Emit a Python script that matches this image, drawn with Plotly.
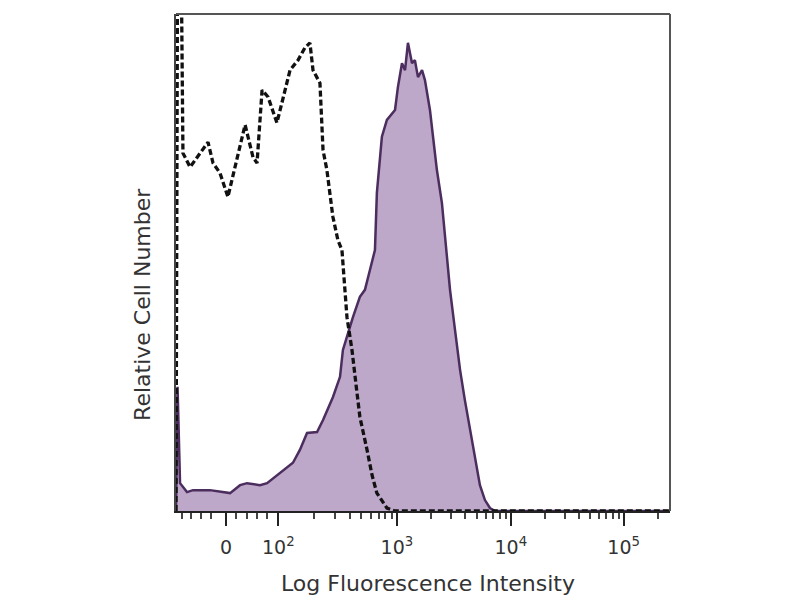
import plotly.graph_objects as go
import math

# Histogram channels (biexponential display scale, 0-256) and relative counts (% of mode)
control_channel = [0, 1.0, 2.0, 3.6, 7.3, 10.9, 16.6, 19.2, 22.8, 26.9, 30.6, 35.8, 39.9, 42.0, 44.6,
                   47.7, 52.3, 54.9, 59.1, 63.2, 66.8, 69.4, 71.0, 74.6, 76.2, 78.2, 81.3, 83.9,
                   86.0, 88.6, 91.2, 93.3, 95.3, 99.0, 101.6, 104.1, 107.3, 109.3, 113.5, 256]
control_count = [0, 140, 140, 72.0, 69.2, 71.2, 74.2, 70.0, 68.0, 63.2, 69.2, 77.7, 71.2, 70.0, 84.7,
                 83.3, 78.1, 82.2, 88.7, 90.7, 93.2, 94.2, 88.7, 86.1, 72.6, 68.6, 59.2, 54.5,
                 52.5, 39.0, 32.4, 25.4, 18.9, 12.3, 7.2, 3.6, 1.6, 0.6, 0, 0]

stained_channel = [0, 0.8, 2.1, 5.7, 8.8, 17.6, 28.0, 33.2, 36.8, 43.5, 47.2, 53.9, 60.6, 64.2, 67.9,
                   73.1, 76.2, 81.3, 85.0, 86.5, 89.1, 91.7, 95.3, 97.9, 100.5, 103.1, 104.1, 106.7,
                   109.3, 113.5, 115.0, 117.1, 118.7, 120.2, 122.3, 123.8, 125.4, 127.5, 129.0,
                   130.1, 131.6, 133.2, 135.2, 137.8, 140.4, 142.0, 144.6, 147.2, 149.7, 152.3,
                   154.9, 157.5, 160.1, 162.7, 165.3, 256]
stained_count = [0, 25, 5.6, 3.8, 4.2, 4.2, 3.6, 5.2, 5.6, 5.2, 5.6, 7.6, 9.7, 12.3, 15.7,
                 15.9, 18.3, 22.9, 27.0, 32.4, 35.8, 39.0, 43.1, 44.5, 48.5, 52.5, 64.0, 75.3,
                 78.7, 80.7, 85.3, 90.1, 88.7, 94.2, 90.1, 90.7, 87.3, 88.7, 86.7,
                 84.1, 80.7, 75.3, 68.6, 62.0, 51.9, 44.5, 36.4, 28.4, 22.3, 16.3,
                 10.3, 5.2, 2.2, 0.6, 0, 0]

tick_positions = [26, 53, 114.5, 173.5, 232]
tick_labels = ["0", "10<sup>2</sup>", "10<sup>3</sup>", "10<sup>4</sup>", "10<sup>5</sup>"]

x_title = "Log Fluorescence Intensity"
y_title = "Relative Cell Number"

# minor tick positions (biexponential decades)
minor_positions = [3, 8, 13, 18, 31, 37, 42, 47]
decades = [(53, 114.5), (114.5, 173.5), (173.5, 232)]
for a, b in decades:
    for k in range(2, 10):
        minor_positions.append(a + (b - a) * math.log10(k))
for k in range(2, 5):
    minor_positions.append(232 + 58.5 * math.log10(k))

fig = go.Figure()
fig.add_trace(go.Scatter(
    x=stained_channel, y=stained_count, mode="lines",
    line=dict(color="#4b2d5e", width=2.5),
    fill="tozeroy", fillcolor="#bea8c9", showlegend=False,
))
fig.add_trace(go.Scatter(
    x=control_channel, y=control_count, mode="lines",
    line=dict(color="#111111", width=3.3, dash="6px,3px"),
    showlegend=False,
))

fig.update_layout(
    width=800, height=600,
    margin=dict(l=168, r=138, t=6, b=97),
    paper_bgcolor="white", plot_bgcolor="white",
    font=dict(family="DejaVu Sans", color="#333333"),
    xaxis=dict(
        range=[0, 256], showgrid=False, zeroline=False,
        tickmode="array", tickvals=tick_positions, ticktext=tick_labels,
        ticks="outside", ticklen=13, tickwidth=2, tickcolor="#222222",
        tickfont=dict(size=19, color="#333333"), ticklabelstandoff=5,
        minor=dict(tickmode="array", tickvals=minor_positions, ticks="outside",
                   ticklen=6, tickwidth=1.5, tickcolor="#444444"),
        showline=True, linecolor="#222222", linewidth=2, mirror=False,
    ),
    yaxis=dict(
        range=[0, 100], showgrid=False, zeroline=False, showticklabels=False, ticks="",
        showline=True, linecolor="#444444", linewidth=2, mirror=False,
    ),
    annotations=[
        dict(text=x_title, xref="paper", yref="paper", x=0.510, y=-0.145,
             xanchor="center", yanchor="middle", showarrow=False,
             font=dict(size=22, color="#333333")),
        dict(text=y_title, xref="paper", yref="paper", x=-0.067, y=0.4165,
             xanchor="center", yanchor="middle", showarrow=False, textangle=-90,
             font=dict(size=22, color="#333333")),
    ],
)
# top and right frame lines
fig.add_shape(type="line", xref="paper", yref="paper", x0=0, x1=1, y0=1, y1=1,
              line=dict(color="#555555", width=2))
fig.add_shape(type="line", xref="paper", yref="paper", x0=1, x1=1, y0=0, y1=1,
              line=dict(color="#555555", width=2))

fig.write_html("out.html")
